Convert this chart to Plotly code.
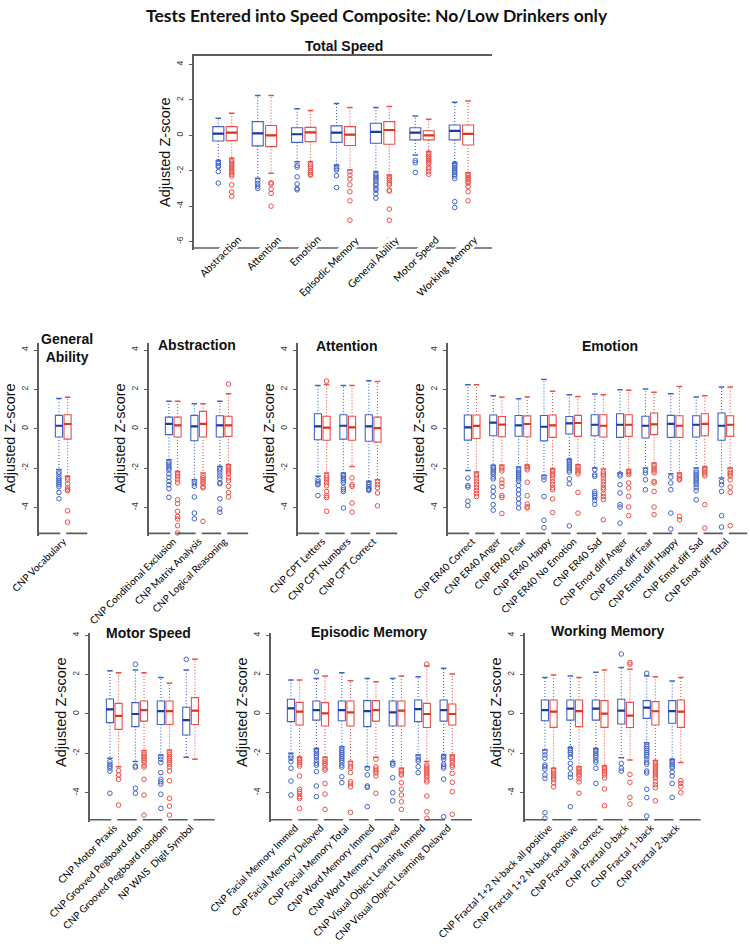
import plotly.graph_objects as go

W, H = 750, 944
BLUE = "#4264c8"
BLUE_MED = "#1c3aa6"
RED = "#ec5046"
RED_MED = "#e3301f"
AXIS = "#5c5c5c"

# ---------------- data: [lower whisker, q1, median, q3, upper whisker] ----------------
TS_CATS = ["Abstraction", "Attention", "Emotion", "Episodic Memory", "General Ability", "Motor Speed", "Working Memory"]
TS_BLUE = [[-1.43, -0.32, 0.09, 0.49, 0.96], [-2.43, -0.6, 0.11, 0.77, 2.25], [-1.5, -0.4, 0.06, 0.43, 1.5],
           [-1.68, -0.4, 0.15, 0.53, 1.8], [-2.06, -0.45, 0.19, 0.68, 1.57], [-1.11, -0.26, 0.15, 0.43, 1.09],
           [-1.55, -0.26, 0.25, 0.58, 1.87]]
TS_RED = [[-1.3, -0.3, 0.15, 0.49, 1.25], [-2.15, -0.64, 0.0, 0.55, 2.25], [-1.5, -0.36, 0.17, 0.45, 1.4],
          [-1.96, -0.58, 0.04, 0.49, 1.57], [-2.25, -0.51, 0.3, 0.77, 1.62], [-0.92, -0.26, 0.0, 0.26, 0.9],
          [-2.11, -0.55, 0.08, 0.58, 1.94]]
TS_BLUE_OUT = [[-1.5, -1.6, -1.72, -1.78, -2.05, -2.7], [-2.57, -2.72, -2.87, -3.0],
               [-1.7, -1.8, -2.35, -2.75, -3.0, -3.08], [-1.77, -1.87, -1.96, -2.28, -2.95],
               [-2.2, -2.3, -2.4, -2.5, -2.6, -2.75, -2.85, -3.0, -3.1, -3.3, -3.55], [-1.43, -1.55, -2.1],
               [-1.6, -1.7, -1.8, -1.9, -2.0, -2.1, -2.2, -2.3, -2.45, -3.75, -4.08]]
TS_RED_OUT = [[-1.4, -1.5, -1.6, -1.7, -1.8, -1.9, -2.0, -2.1, -2.2, -2.3, -2.8, -3.2, -3.45],
              [-2.68, -2.75, -3.05, -3.28, -4.0], [-1.65, -1.75, -1.85, -2.0, -2.1, -2.2, -2.25],
              [-2.06, -2.25, -2.47, -2.8, -3.19, -3.7, -4.8],
              [-2.35, -2.45, -2.55, -2.7, -2.8, -3.1, -3.15, -4.17, -4.8, -5.9],
              [-1.0, -1.1, -1.2, -1.3, -1.4, -1.5, -1.6, -1.8, -1.9, -2.05, -2.2],
              [-2.2, -2.3, -2.4, -2.5, -2.6, -2.7, -2.9, -3.19, -3.7]]

GA_CATS = ["CNP Vocabulary"]
GA_BLUE = [[-2.08, -0.42, 0.15, 0.68, 1.53]]
GA_RED = [[-2.42, -0.53, 0.24, 0.71, 1.6]]
GA_BLUE_OUT = [[-2.2, -2.3, -2.45, -2.55, -2.65, -2.75, -2.85, -2.95, -3.24, -3.56]]
GA_RED_OUT = [[-2.5, -2.6, -2.8, -3.0, -3.1, -3.15, -4.17, -4.75]]

ABS_CATS = ["CNP Conditional Exclusion", "CNP Matrix Analysis", "CNP Logical Reasoning"]
ABS_BLUE = [[-1.58, -0.3, 0.25, 0.59, 1.39], [-2.59, -0.61, 0.12, 0.68, 1.27], [-1.92, -0.42, 0.17, 0.66, 1.39]]
ABS_RED = [[-2.17, -0.42, 0.17, 0.59, 1.39], [-2.25, -0.42, 0.25, 0.88, 1.27], [-1.83, -0.39, 0.17, 0.63, 1.78]]
ABS_BLUE_OUT = [[-1.7, -1.8, -1.9, -2.0, -2.1, -2.3, -2.47, -2.68, -2.85, -3.05, -3.49],
                [-2.68, -2.8, -2.93, -3.47, -4.29, -4.58],
                [-2.0, -2.1, -2.25, -2.4, -2.55, -2.75, -2.8, -3.56, -4.08, -4.25]]
ABS_RED_OUT = [[-2.25, -2.35, -2.45, -2.6, -2.75, -3.61, -3.81, -4.2, -4.46, -4.59, -4.93, -5.3],
               [-2.4, -2.5, -2.6, -2.7, -2.8, -2.95, -3.0, -4.71],
               [2.27, -1.9, -2.0, -2.1, -2.2, -2.3, -2.5, -2.65, -2.93, -3.24, -3.47]]

ATT_CATS = ["CNP CPT Letters", "CNP CPT Numbers", "CNP CPT Correct"]
ATT_BLUE = [[-2.42, -0.56, 0.12, 0.76, 2.19], [-2.25, -0.53, 0.15, 0.71, 2.19], [-2.68, -0.64, 0.12, 0.71, 2.44]]
ATT_RED = [[-2.25, -0.59, 0.05, 0.63, 2.25], [-1.92, -0.59, 0.07, 0.63, 2.19], [-2.59, -0.68, 0.03, 0.59, 2.4]]
ATT_BLUE_OUT = [[-2.6, -2.7, -2.8, -2.85, -3.4],
                [-2.35, -2.4, -2.5, -2.55, -2.65, -2.75, -3.0, -3.1, -3.19, -4.03],
                [-2.75, -2.85, -2.95, -3.05, -3.1, -3.13]]
ATT_RED_OUT = [[2.42, -2.4, -2.5, -2.6, -2.75, -2.9, -3.19, -3.4, -3.5, -4.2],
               [-2.5, -2.85, -2.93, -3.78, -4.24],
               [-2.7, -2.85, -3.0, -3.27, -3.92]]

EMO_CATS = ["CNP ER40 Correct", "CNP ER40 Anger", "CNP ER40 Fear", "CNP ER40 Happy", "CNP ER40 No Emotion",
            "CNP ER40 Sad", "CNP Emot diff Anger", "CNP Emot diff Fear", "CNP Emot diff Happy",
            "CNP Emot diff Sad", "CNP Emot diff Total"]
EMO_BLUE = [[-2.12, -0.58, 0.07, 0.7, 2.24], [-1.86, -0.36, 0.31, 0.7, 1.68], [-1.95, -0.38, 0.17, 0.67, 1.52],
            [-2.38, -0.62, 0.1, 0.67, 2.5], [-1.57, -0.27, 0.27, 0.62, 1.73], [-2.0, -0.36, 0.2, 0.71, 1.76],
            [-2.25, -0.44, 0.2, 0.76, 1.98], [-2.0, -0.47, 0.15, 0.63, 2.02], [-2.29, -0.44, 0.25, 0.68, 1.78],
            [-2.0, -0.42, 0.2, 0.66, 1.61], [-2.51, -0.59, 0.15, 0.8, 2.12]]
EMO_RED = [[-2.2, -0.5, 0.14, 0.7, 2.24], [-1.86, -0.41, 0.21, 0.62, 1.61], [-1.86, -0.41, 0.24, 0.65, 1.61],
           [-2.03, -0.44, 0.17, 0.7, 1.91], [-1.83, -0.39, 0.29, 0.68, 1.64], [-2.05, -0.42, 0.15, 0.71, 1.73],
           [-2.08, -0.39, 0.2, 0.71, 1.95], [-1.75, -0.3, 0.22, 0.8, 1.85], [-2.25, -0.44, 0.15, 0.66, 2.15],
           [-1.95, -0.36, 0.25, 0.76, 1.68], [-2.0, -0.39, 0.2, 0.66, 2.12]]
EMO_BLUE_OUT = [[-2.51, -2.89, -2.97, -3.69, -3.91],
                [-1.95, -2.0, -2.1, -2.2, -2.3, -2.45, -2.55, -2.97, -3.18, -3.45, -3.86, -4.14],
                [-2.05, -2.15, -2.25, -2.35, -2.45, -2.55, -2.65, -2.89, -3.11, -3.32, -3.57, -3.79, -4.03],
                [-2.46, -2.6, -3.45, -4.65, -5.03],
                [-1.6, -1.7, -1.8, -1.9, -2.0, -2.1, -2.2, -2.55, -2.8, -4.94],
                [-2.08, -2.34, -2.42, -3.2, -3.3, -3.4, -3.5, -3.65, -3.85],
                [-2.3, -2.4, -2.85, -3.27, -3.86, -3.98, -4.8],
                [-2.12, -2.25, -2.59, -3.1],
                [-2.46, -2.76, -3.1, -4.29, -5.1],
                [-2.15, -2.25, -2.35, -2.45, -2.55, -2.65, -2.75, -2.85, -3.0, -3.15, -3.61],
                [-2.68, -2.85, -3.19, -4.42, -5.0]]
EMO_RED_OUT = [[-2.3, -2.4, -2.55, -2.7, -2.85, -3.0, -3.15, -3.3, -3.45],
               [-1.95, -2.05, -2.15, -2.6, -2.77, -2.94, -3.4, -3.5, -4.31],
               [-1.91, -2.0, -2.09, -2.72, -3.4, -3.83, -3.97, -4.03],
               [-2.12, -2.2, -2.3, -2.4, -2.55, -2.7, -2.85, -3.0, -3.1, -3.57, -4.26],
               [-1.92, -2.0, -2.1, -2.2, -2.3, -3.24, -4.29],
               [-2.2, -2.3, -2.4, -2.55, -2.7, -2.85, -3.0, -3.1, -3.3, -3.45, -3.6, -4.63],
               [-2.17, -2.25, -2.33, -2.76, -3.02, -3.44, -3.98, -4.42],
               [-1.85, -1.95, -2.05, -2.15, -2.25, -2.68, -2.76, -3.19, -3.98, -4.37],
               [-2.35, -2.45, -2.55, -2.6, -4.46, -4.63],
               [-2.0, -2.1, -2.2, -2.3, -2.4, -3.86, -5.05],
               [-2.08, -2.2, -2.3, -2.4, -2.6, -2.97, -3.24, -4.93]]

MOT_CATS = ["CNP Motor Praxis", "CNP Grooved Pegboard dom", "CNP Grooved Pegboard nondom", "NP WAIS  Digit Symbol"]
MOT_BLUE = [[-2.25, -0.44, 0.24, 0.76, 2.2], [-2.42, -0.64, 0.0, 0.58, 2.24], [-2.08, -0.53, 0.15, 0.66, 1.85],
            [-2.2, -1.07, -0.31, 0.34, 2.24]]
MOT_RED = [[-2.68, -0.78, -0.1, 0.54, 2.1], [-1.86, -0.36, 0.2, 0.66, 2.1], [-1.83, -0.53, 0.15, 0.66, 1.56],
           [-2.3, -0.53, 0.17, 0.83, 2.78]]
MOT_BLUE_OUT = [[-2.42, -2.55, -2.65, -2.75, -2.9, -4.03], [2.53, -2.64, -2.71, -3.78, -4.03],
                [-2.17, -2.3, -2.47, -2.98, -3.32, -3.44, -3.56, -4.08, -4.8], [2.78]]
MOT_RED_OUT = [[-2.88, -3.1, -3.32, -4.63],
               [-1.97, -2.05, -2.15, -2.25, -2.35, -2.45, -2.6, -2.7, -3.32, -4.12, -5.14],
               [-1.97, -2.05, -2.15, -2.25, -2.35, -2.45, -2.55, -2.7, -2.9, -3.39, -4.29, -4.68, -5.14], []]

EPI_CATS = ["CNP Facial Memory Immed", "CNP Facial Memory Delayed", "CNP Facial Memory Total",
            "CNP Word Memory Immed", "CNP Word Memory Delayed", "CNP Visual Object Learning Immed",
            "CNP Visual Object Learning Delayed"]
EPI_BLUE = [[-2.0, -0.39, 0.29, 0.75, 1.73], [-1.75, -0.31, 0.2, 0.66, 1.81], [-1.66, -0.34, 0.2, 0.66, 2.1],
            [-2.68, -0.64, 0.15, 0.68, 1.81], [-2.42, -0.61, 0.08, 0.66, 1.81], [-2.08, -0.39, 0.25, 0.71, 1.9],
            [-2.08, -0.36, 0.2, 0.71, 2.32]]
EPI_RED = [[-2.2, -0.56, 0.12, 0.59, 1.73], [-2.2, -0.61, 0.03, 0.58, 1.93], [-2.42, -0.61, 0.08, 0.66, 1.69],
           [-2.2, -0.36, 0.2, 0.68, 1.64], [-2.76, -0.61, 0.17, 0.66, 1.93], [-2.42, -0.69, 0.0, 0.54, 2.44],
           [-2.08, -0.56, 0.0, 0.51, 2.03]]
EPI_BLUE_OUT = [[-2.14, -2.25, -2.42, -2.76, -3.41, -4.12],
                [2.15, -1.83, -1.9, -2.0, -2.1, -2.2, -2.35, -2.5, -2.6, -2.93, -3.66, -4.2],
                [-1.75, -1.85, -1.95, -2.05, -2.15, -2.25, -2.35, -2.45, -2.6, -2.7, -3.19, -3.49],
                [-2.76, -3.1, -3.66, -3.73, -4.71],
                [-2.5, -2.6, -3.24, -4.0, -4.41],
                [-2.17, -2.3, -2.4, -2.68, -2.98],
                [-2.14, -2.2, -2.3, -2.55, -2.65, -2.75, -3.31, -5.22]]
EPI_RED_OUT = [[-2.25, -2.35, -2.45, -2.55, -2.65, -3.15, -3.83, -3.95, -4.05, -4.2, -4.29, -4.8],
               [-2.3, -2.4, -2.5, -2.6, -2.75, -2.85, -3.53, -4.07, -4.85],
               [-2.5, -2.65, -2.75, -2.98, -3.44, -3.55, -3.7, -5.0],
               [-2.3, -2.68, -2.8, -2.9, -3.0, -3.15, -4.03],
               [-2.85, -2.95, -3.05, -3.1, -3.49, -3.83, -4.12, -4.46, -4.85],
               [2.54, -2.6, -2.7, -2.8, -2.9, -3.0, -3.1, -3.2, -3.35, -3.45, -4.17, -4.97, -5.3],
               [-2.17, -2.25, -2.35, -2.45, -2.6, -2.7, -3.02, -3.47, -3.95, -5.1]]

WM_CATS = ["CNP Fractal 1+2 N-back all positive", "CNP Fractal 1+2 N-back positive", "CNP Fractal all correct",
           "CNP Fractal 0-back", "CNP Fractal 1-back", "CNP Fractal 2-back"]
WM_BLUE = [[-1.83, -0.34, 0.2, 0.71, 1.85], [-1.71, -0.31, 0.27, 0.71, 1.93], [-1.75, -0.31, 0.27, 0.71, 2.12],
           [-2.22, -0.51, 0.17, 0.75, 2.36], [-1.46, -0.22, 0.32, 0.68, 1.93], [-2.31, -0.47, 0.15, 0.68, 1.68]]
WM_RED = [[-2.76, -0.68, 0.12, 0.71, 1.98], [-2.68, -0.64, 0.15, 0.71, 1.85], [-2.64, -0.68, 0.02, 0.68, 2.24],
          [-2.34, -0.69, -0.08, 0.59, 2.27], [-2.37, -0.56, 0.14, 0.63, 1.9], [-2.47, -0.68, 0.12, 0.71, 1.85]]
WM_BLUE_OUT = [[-1.92, -2.08, -2.25, -2.59, -2.68, -2.81, -3.1, -3.27, -5.02, -5.3],
               [-1.75, -1.85, -1.95, -2.05, -2.2, -2.51, -2.76, -3.05, -3.22, -4.71],
               [-1.83, -1.9, -2.0, -2.1, -2.2, -2.35, -2.45, -2.76, -3.53],
               [3.05, -2.51, -2.76, -2.9],
               [2.07, -1.55, -1.65, -1.75, -1.85, -1.95, -2.05, -2.15, -2.3, -2.45, -2.55, -2.9, -3.0, -3.83,
                -4.25, -5.19],
               [-2.37, -2.45, -2.55, -2.65, -2.75, -2.95, -3.15, -3.53, -4.24]]
WM_RED_OUT = [[-2.85, -2.95, -3.05, -3.15, -3.25, -3.35, -3.5, -3.7],
              [-2.76, -2.85, -2.95, -3.05, -3.15, -3.3, -3.45, -4.03],
              [-2.71, -2.8, -2.9, -3.0, -3.1, -3.25, -3.81, -4.66],
              [2.61, 2.53, -3.07, -3.47, -4.24, -4.58],
              [-2.45, -2.55, -2.65, -2.75, -2.85, -2.95, -3.05, -3.15, -3.25, -3.45, -3.6, -3.75, -4.41],
              [-3.39, -3.53, -3.69, -4.0]]

MAIN_TITLE = "Tests Entered into Speed Composite: No/Low Drinkers only"
Y_TITLE = "Adjusted Z-score"

# ---------------- layout geometry (pixels) ----------------
ROW2 = dict(zero=428.7, ppy=19.67, ybot=-5.32, ytop=4.36, yticks=[-4, -2, 0, 2, 4], ylab_y=438)
ROW3 = dict(zero=714.0, ppy=19.67, ybot=-5.38, ytop=4.12, yticks=[-4, -2, 0, 2, 4], ylab_y=712)
PANELS = [
    dict(title="Total Speed", cats=TS_CATS, blue=TS_BLUE, red=TS_RED, bo=TS_BLUE_OUT, ro=TS_RED_OUT,
         left=194, ppx=39.4, xlo=0.213, xhi=7.787, zero=135.3, ppy=17.7, ybot=-6.37, ytop=4.48,
         yticks=[-6, -4, -2, 0, 2, 4], ylab_y=152, title_xy=(344, 46), top=True),
    dict(title="General<br>Ability", cats=GA_CATS, blue=GA_BLUE, red=GA_RED, bo=GA_BLUE_OUT, ro=GA_RED_OUT,
         left=39, ppx=25.45, xlo=0.047, xhi=1.953, title_xy=(67, 348), **ROW2),
    dict(title="Abstraction", cats=ABS_CATS, blue=ABS_BLUE, red=ABS_RED, bo=ABS_BLUE_OUT, ro=ABS_RED_OUT,
         left=149, ppx=25.45, xlo=0.047, xhi=3.953, title_xy=(197, 345), **ROW2),
    dict(title="Attention", cats=ATT_CATS, blue=ATT_BLUE, red=ATT_RED, bo=ATT_BLUE_OUT, ro=ATT_RED_OUT,
         left=298, ppx=25.45, xlo=0.047, xhi=3.953, title_xy=(346, 346), **ROW2),
    dict(title="Emotion", cats=EMO_CATS, blue=EMO_BLUE, red=EMO_RED, bo=EMO_BLUE_OUT, ro=EMO_RED_OUT,
         left=448, ppx=25.37, xlo=0.047, xhi=11.85, title_xy=(610, 346), **ROW2),
    dict(title="Motor Speed", cats=MOT_CATS, blue=MOT_BLUE, red=MOT_RED, bo=MOT_BLUE_OUT, ro=MOT_RED_OUT,
         left=90, ppx=25.45, xlo=0.047, xhi=4.953, title_xy=(148, 633), **ROW3),
    dict(title="Episodic Memory", cats=EPI_CATS, blue=EPI_BLUE, red=EPI_RED, bo=EPI_BLUE_OUT, ro=EPI_RED_OUT,
         left=271, ppx=25.45, xlo=0.047, xhi=7.953, title_xy=(369, 632), **ROW3),
    dict(title="Working Memory", cats=WM_CATS, blue=WM_BLUE, red=WM_RED, bo=WM_BLUE_OUT, ro=WM_RED_OUT,
         left=525, ppx=25.45, xlo=0.047, xhi=6.953, title_xy=(608, 631), **ROW3),
]

OFF = 0.17    # half distance between the two boxes of a pair (group units)
BW = 0.28     # box width (group units)
PAD = 0.12    # y padding below the bottom axis line

fig = go.Figure()
layout = dict(width=W, height=H, autosize=False, margin=dict(l=0, r=0, t=0, b=0, pad=0),
              paper_bgcolor="white", plot_bgcolor="white", showlegend=False, template="none")
annotations = []

AX_FONT = "Liberation Sans, Arial, sans-serif"
LBL_FONT = "Lato, Liberation Sans, sans-serif"

for k, p in enumerate(PANELS, start=1):
    xa = "x" if k == 1 else f"x{k}"
    ya = "y" if k == 1 else f"y{k}"
    n = len(p["cats"])
    x0 = p["left"] / W
    x1 = min(1.0, (p["left"] + (p["xhi"] - p["xlo"]) * p["ppx"]) / W)
    ylo = p["ybot"] - PAD
    pt = p["zero"] - p["ytop"] * p["ppy"]
    pb = p["zero"] - ylo * p["ppy"]
    y0d, y1d = 1 - pb / H, 1 - pt / H

    xaxis = dict(domain=[x0, x1], range=[p["xlo"], p["xhi"]], anchor=ya, showgrid=False, zeroline=False,
                 fixedrange=True, automargin=False)
    if p.get("top"):
        xaxis.update(side="top", showline=True, linecolor=AXIS, linewidth=1.6, ticks="",
                     showticklabels=False)
    else:
        xaxis.update(showline=False, ticks="", tickmode="array", tickvals=list(range(1, n + 1)),
                     ticktext=p["cats"], tickangle=-45, ticklabelstandoff=-3,
                     tickfont=dict(family=LBL_FONT, size=10, color="#000000"))
    yaxis = dict(domain=[y0d, y1d], range=[ylo, p["ytop"]], anchor=xa, showgrid=False, zeroline=False,
                 showline=True, linecolor=AXIS, linewidth=1.6, ticks="outside", ticklen=3, tickwidth=1,
                 tickcolor=AXIS, tickmode="array", tickvals=p["yticks"],
                 ticktext=[str(v) for v in p["yticks"]], tickangle=-90, ticklabelstandoff=3,
                 tickfont=dict(family=AX_FONT, size=8.5, color="#333333"), fixedrange=True, automargin=False)
    layout["xaxis" if k == 1 else f"xaxis{k}"] = xaxis
    layout["yaxis" if k == 1 else f"yaxis{k}"] = yaxis

    for stats, outs, col, mcol, sgn in ((p["blue"], p["bo"], BLUE, BLUE_MED, -1),
                                        (p["red"], p["ro"], RED, RED_MED, 1)):
        pos = [i + 1 + sgn * OFF for i in range(n)]
        fig.add_trace(go.Box(x=pos, q1=[s[1] for s in stats], median=[s[2] for s in stats],
                             q3=[s[3] for s in stats], lowerfence=[s[1] for s in stats],
                             upperfence=[s[3] for s in stats], width=BW, boxpoints=False,
                             fillcolor="rgba(255,255,255,0)", line=dict(color=col, width=1.1),
                             hoverinfo="skip", xaxis=xa, yaxis=ya))
        wx, wy = [], []
        for xp, s in zip(pos, stats):
            wx += [xp, xp, None, xp, xp, None]
            wy += [s[3], s[4], None, s[1], s[0], None]
        fig.add_trace(go.Scatter(x=wx, y=wy, mode="lines", line=dict(color=col, width=1.1, dash="1px,2px"),
                                 hoverinfo="skip", xaxis=xa, yaxis=ya))
        cx, cy = [], []
        for xp, s in zip(pos, stats):
            cx += [xp, xp]
            cy += [s[4], s[0]]
        fig.add_trace(go.Scatter(x=cx, y=cy, mode="markers",
                                 marker=dict(symbol="line-ew", size=4, line=dict(color=col, width=1.5)),
                                 hoverinfo="skip", xaxis=xa, yaxis=ya))
        mx, my = [], []
        for xp, s in zip(pos, stats):
            mx += [xp - BW / 2, xp + BW / 2, None]
            my += [s[2], s[2], None]
        fig.add_trace(go.Scatter(x=mx, y=my, mode="lines", line=dict(color=mcol, width=2.2),
                                 hoverinfo="skip", xaxis=xa, yaxis=ya))
        ox, oy = [], []
        for xp, o in zip(pos, outs):
            ox += [xp] * len(o)
            oy += o
        fig.add_trace(go.Scatter(x=ox, y=oy, mode="markers",
                                 marker=dict(symbol="circle-open", size=4.6, color=col, line=dict(width=1)),
                                 hoverinfo="skip", cliponaxis=False, xaxis=xa, yaxis=ya))

    # bottom axis line; in the rows it is broken at each group position,
    # in Total Speed the white-backed labels cut it.
    if p.get("top"):
        bx, by = [p["xlo"], p["xhi"]], [p["ybot"], p["ybot"]]
    else:
        g = 3 / p["ppx"]
        bx, by = [p["xlo"]], [p["ybot"]]
        for i in range(n):
            c = i + 1
            bx += [c - g, None, c + g]
            by += [p["ybot"], None, p["ybot"]]
        bx.append(p["xhi"])
        by.append(p["ybot"])
    fig.add_trace(go.Scatter(x=bx, y=by, mode="lines", line=dict(color=AXIS, width=1.6),
                             hoverinfo="skip", xaxis=xa, yaxis=ya))

    tx, ty = p["title_xy"]
    annotations.append(dict(text=f"<b>{p['title']}</b>", x=tx / W, y=1 - ty / H, xref="paper", yref="paper",
                            xanchor="center", yanchor="middle", showarrow=False,
                            font=dict(family=AX_FONT, size=14, color="#111111")))
    annotations.append(dict(text=Y_TITLE, x=(p["left"] - 29) / W, y=1 - p["ylab_y"] / H, xref="paper",
                            yref="paper", xanchor="center", yanchor="middle", textangle=-90, showarrow=False,
                            font=dict(family=AX_FONT, size=14.5, color="#111111")))
    if p.get("top"):
        for i, c in enumerate(p["cats"]):
            annotations.append(dict(text=c, x=i + 1, y=1 - 232 / H, xref=xa, yref="paper",
                                    xanchor="right", yanchor="top", xshift=20, textangle=-45,
                                    bgcolor="white", borderpad=0,
                                    showarrow=False, font=dict(family=LBL_FONT, size=10.4, color="#000000")))

annotations.append(dict(text=f"<b>{MAIN_TITLE}</b>", x=377 / W, y=1 - 15 / H, xref="paper", yref="paper",
                        xanchor="center", yanchor="middle", showarrow=False,
                        font=dict(family=LBL_FONT, size=17.5, color="#111111")))
layout["annotations"] = annotations
fig.update_layout(**layout)
fig.write_html("out.html", config={"displayModeBar": False},
               post_script="document.body.style.margin='0';document.body.style.overflow='hidden';")
